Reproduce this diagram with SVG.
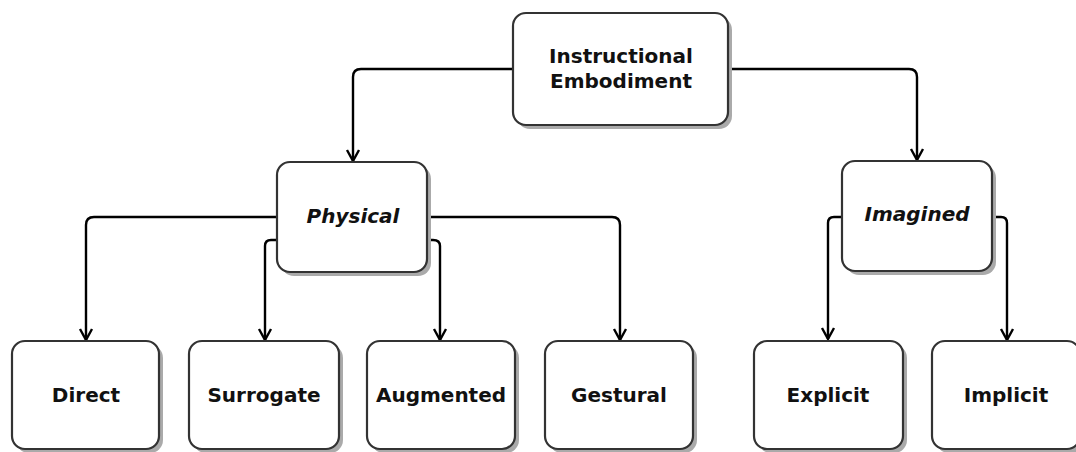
<svg xmlns="http://www.w3.org/2000/svg" width="1076" height="452" viewBox="0 0 1076 452">
  <defs>
    <marker id="arr" markerUnits="userSpaceOnUse" markerWidth="16" markerHeight="16" viewBox="-8 -14 16 16" refX="0" refY="0" orient="auto-start-reverse">
      <path d="M -11 -6 L 0 0 L -11 6" fill="none" stroke="#000" stroke-width="2.2" stroke-linejoin="miter" transform="rotate(0)"/>
    </marker>
    <marker id="arrow" markerUnits="userSpaceOnUse" markerWidth="24" markerHeight="24" viewBox="-12 -12 24 24" refX="0" refY="0" orient="auto">
      <path d="M -11 -6 L 0 0 L -11 6" fill="none" stroke="#000" stroke-width="2.4"/>
    </marker>
  </defs>
  <style>
    .box { fill: #fff; stroke: #333; stroke-width: 2.2; }
    .shadow { fill: #aaa; }
    .lbl { font-family: "DejaVu Sans", Verdana, sans-serif; font-weight: bold; font-size: 20px; fill: #111; text-anchor: middle; }
    .it { font-style: italic; }
    .conn { fill: none; stroke: #000; stroke-width: 2.4; marker-end: url(#arrow); }
  </style>
  <rect width="1076" height="452" fill="#fff"/>

  <g id="connectors">
    <path class="conn" d="M 513 69 H 361 Q 353 69 353 77 V 161"/>
    <path class="conn" d="M 728 69 H 909 Q 917 69 917 77 V 160"/>
    <path class="conn" d="M 277 217 H 94 Q 86 217 86 225 V 340"/>
    <path class="conn" d="M 277 240 H 271 Q 265 240 265 246 V 340"/>
    <path class="conn" d="M 427 240 H 433 Q 440 240 440 246 V 340"/>
    <path class="conn" d="M 427 217 H 612 Q 620 217 620 225 V 340"/>
    <path class="conn" d="M 842 217 H 834 Q 828 217 828 223 V 339"/>
    <path class="conn" d="M 992 217 H 1001 Q 1007 217 1007 223 V 340"/>
  </g>

  <g id="node-instructional">
    <rect class="shadow" x="517" y="17" width="215" height="112" rx="13"/>
    <rect class="box" x="513" y="13" width="215" height="112" rx="13"/>
    <text class="lbl" x="621" y="63">Instructional</text>
    <text class="lbl" x="621" y="88">Embodiment</text>
  </g>

  <g id="node-physical">
    <rect class="shadow" x="281" y="166" width="150" height="110" rx="13"/>
    <rect class="box" x="277" y="162" width="150" height="110" rx="13"/>
    <text class="lbl it" x="353" y="223">Physical</text>
  </g>

  <g id="node-imagined">
    <rect class="shadow" x="846" y="165" width="150" height="110" rx="13"/>
    <rect class="box" x="842" y="161" width="150" height="110" rx="13"/>
    <text class="lbl it" x="917" y="221">Imagined</text>
  </g>

  <g id="node-direct">
    <rect class="shadow" x="16" y="345" width="147" height="108" rx="13"/>
    <rect class="box" x="12" y="341" width="147" height="108" rx="13"/>
    <text class="lbl" x="86" y="402">Direct</text>
  </g>

  <g id="node-surrogate">
    <rect class="shadow" x="193" y="345" width="150" height="108" rx="13"/>
    <rect class="box" x="189" y="341" width="150" height="108" rx="13"/>
    <text class="lbl" x="264" y="402">Surrogate</text>
  </g>

  <g id="node-augmented">
    <rect class="shadow" x="371" y="345" width="148" height="108" rx="13"/>
    <rect class="box" x="367" y="341" width="148" height="108" rx="13"/>
    <text class="lbl" x="441" y="402">Augmented</text>
  </g>

  <g id="node-gestural">
    <rect class="shadow" x="549" y="345" width="148" height="108" rx="13"/>
    <rect class="box" x="545" y="341" width="148" height="108" rx="13"/>
    <text class="lbl" x="619" y="402">Gestural</text>
  </g>

  <g id="node-explicit">
    <rect class="shadow" x="758" y="345" width="149" height="108" rx="13"/>
    <rect class="box" x="754" y="341" width="149" height="108" rx="13"/>
    <text class="lbl" x="828" y="402">Explicit</text>
  </g>

  <g id="node-implicit">
    <rect class="shadow" x="936" y="345" width="148" height="108" rx="13"/>
    <rect class="box" x="932" y="341" width="148" height="108" rx="13"/>
    <text class="lbl" x="1006" y="402">Implicit</text>
  </g>
</svg>
